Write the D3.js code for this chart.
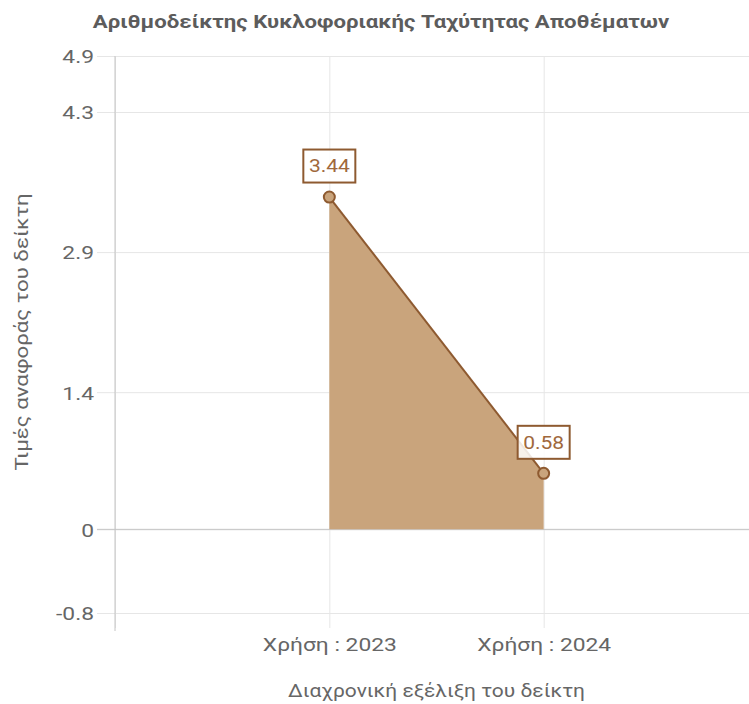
<!DOCTYPE html>
<html>
<head>
<meta charset="utf-8">
<script src="https://cdn.jsdelivr.net/npm/d3@7"></script>
<style>
  body { margin: 0; background: #fff; }
  text { font-family: Roboto, "Liberation Sans", Arial, sans-serif; }
</style>
</head>
<body>
<div id="chart"></div>
<script>
// data
var categories = ["", "Χρήση : 2023", "Χρήση : 2024", ""];
var values = [null, 3.44, 0.58, null];
var yTickValues = [-0.866, 0, 1.42, 2.87, 4.32, 4.9];
var yTickLabels = ["-0.8", "0", "1.4", "2.9", "4.3", "4.9"];
var yMin = -0.866, yMax = 4.9;

var W = 749, H = 704;
var area = {left: 115, right: 758, top: 56, bottom: 613};
var SX = 1.2; // the reference text is a bit wider than tall

var svg = d3.select("#chart").append("svg")
  .attr("width", W).attr("height", H);

// place a text with the stretch along its direction
function place(sel, px, py, rot) {
  sel.attr("x", null).attr("y", null)
    .attr("transform", "translate(" + px + "," + py + ")" +
      (rot ? " rotate(" + rot + ")" : "") + " scale(" + SX + ",1)");
}

var x = d3.scalePoint().domain(d3.range(categories.length)).range([area.left, area.right]);
var y = d3.scaleLinear().domain([yMin, yMax]).range([area.bottom, area.top]);

// horizontal grid + y tick labels
var yAxis = svg.append("g")
  .attr("transform", "translate(" + (area.left - 18) + ",0)")
  .call(d3.axisRight(y)
    .tickValues(yTickValues)
    .tickFormat(function(d, i) { return yTickLabels[i]; })
    .tickSizeInner(area.right - area.left + 18)
    .tickSizeOuter(0)
    .tickPadding(0));
yAxis.select(".domain").remove();
yAxis.selectAll(".tick line").attr("stroke", "#e6e6e6");
yAxis.selectAll(".tick text")
  .attr("text-anchor", "end").attr("dy", "0.36em")
  .style("font-size", "19px").attr("fill", "#666")
  .call(place, -3, 0);

// vertical grid + x tick labels
var xAxis = svg.append("g")
  .attr("transform", "translate(0," + area.top + ")")
  .call(d3.axisBottom(x)
    .tickFormat(function(i) { return categories[i]; })
    .tickSizeInner(area.bottom - area.top + 15)
    .tickSizeOuter(0));
xAxis.select(".domain").remove();
xAxis.selectAll(".tick line").attr("stroke", "#e6e6e6");
xAxis.selectAll(".tick text")
  .attr("dy", null)
  .style("font-size", "19px").attr("fill", "#666")
  .call(place, 0, 651 - area.top);

// zero line and left axis line
svg.append("line")
  .attr("x1", area.left - 18).attr("x2", area.right)
  .attr("y1", y(0)).attr("y2", y(0))
  .attr("stroke", "#c4c4c4");
svg.append("line")
  .attr("x1", area.left).attr("x2", area.left)
  .attr("y1", area.top).attr("y2", area.bottom + 18)
  .attr("stroke", "#c4c4c4");

// filled area under the line
var areaGen = d3.area()
  .defined(function(d) { return d != null; })
  .x(function(d, i) { return x(i); })
  .y0(y(0))
  .y1(function(d) { return y(d); });
svg.append("path")
  .datum(values)
  .attr("d", areaGen)
  .attr("fill", "#c9a47c");

var lineGen = d3.line()
  .defined(function(d) { return d != null; })
  .x(function(d, i) { return x(i); })
  .y(function(d) { return y(d); });
svg.append("path")
  .datum(values)
  .attr("d", lineGen)
  .attr("fill", "none")
  .attr("stroke", "#8e5a30")
  .attr("stroke-width", 2);

var pts = values.map(function(v, i) { return {v: v, i: i}; })
  .filter(function(d) { return d.v != null; });

svg.selectAll("circle.pt").data(pts).enter()
  .append("circle").attr("class", "pt")
  .attr("cx", function(d) { return x(d.i); })
  .attr("cy", function(d) { return y(d.v); })
  .attr("r", 5.5)
  .attr("fill", "#c9a47c")
  .attr("stroke", "#8e5a30")
  .attr("stroke-width", 2);

// value labels in boxes
var lab = svg.selectAll("g.lab").data(pts).enter()
  .append("g").attr("class", "lab")
  .attr("transform", function(d) { return "translate(" + x(d.i) + "," + (y(d.v) - 31) + ")"; });
lab.append("rect")
  .attr("x", -26).attr("y", -16.5).attr("width", 52).attr("height", 33)
  .attr("fill", "rgba(255,255,255,0.85)")
  .attr("stroke", "#8e5a30").attr("stroke-width", 2);
lab.append("text")
  .attr("text-anchor", "middle").attr("dy", "0.36em")
  .style("font-size", "17.5px").attr("fill", "#a0683c")
  .text(function(d) { return d.v.toFixed(2); })
  .call(place, 0, 0);

// titles
svg.append("text")
  .attr("text-anchor", "middle")
  .style("font-size", "18.5px").style("font-weight", "bold")
  .attr("fill", "#5c5c5c")
  .text("Αριθμοδείκτης Κυκλοφοριακής Ταχύτητας Αποθέματων")
  .call(place, 381, 28);

svg.append("text")
  .attr("text-anchor", "middle")
  .style("font-size", "17.5px").attr("fill", "#666")
  .text("Διαχρονική εξέλιξη του δείκτη")
  .call(place, (area.left + area.right) / 2, 697);

svg.append("text")
  .attr("text-anchor", "middle")
  .style("font-size", "18.5px").attr("fill", "#666")
  .text("Τιμές αναφοράς του δείκτη")
  .call(place, 28, 332, -90);
</script>
</body>
</html>
